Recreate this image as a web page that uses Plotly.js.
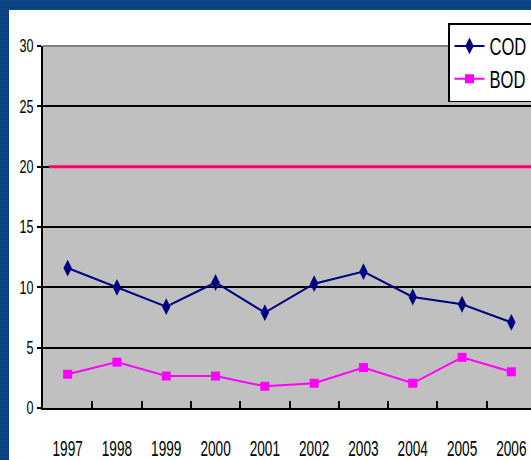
<!DOCTYPE html>
<html>
<head>
<meta charset="utf-8">
<script src="https://cdn.plot.ly/plotly-3.0.1.min.js"></script>
<style>
  html, body { margin: 0; padding: 0; }
  body {
    width: 531px; height: 460px; overflow: hidden; position: relative;
    background: repeating-linear-gradient(180deg, #0b4686 0px, #0b4686 2px, #0a3f7a 2px, #0a3f7a 4px);
  }
  #panel { position: absolute; left: 9px; top: 10px; width: 540px; height: 450px; background: #ffffff; }
  #chart { width: 540px; height: 450px; }
</style>
</head>
<body>
<div id="panel"><div id="chart"></div></div>
<script>
const years = ['1997','1998','1999','2000','2001','2002','2003','2004','2005','2006'];
const codValues = [11.6, 10.0, 8.4, 10.4, 7.9, 10.3, 11.3, 9.2, 8.6, 7.1];
const bodValues = [2.8, 3.8, 2.65, 2.65, 1.8, 2.05, 3.35, 2.05, 4.2, 3.0];
const standardValue = 20;
const yTicks = [0, 5, 10, 15, 20, 25, 30];

const FONT = "'Liberation Sans', Arial, sans-serif";

const traces = [
  {
    x: years, y: codValues, name: 'COD', type: 'scatter', mode: 'lines+markers',
    legendgroup: 'cod',
    line: {color: '#000080', width: 2},
    marker: {symbol: 'diamond-tall', size: 12, color: '#000080'}
  },
  {
    x: years, y: bodValues, name: 'BOD', type: 'scatter', mode: 'lines+markers',
    legendgroup: 'bod',
    line: {color: '#FF00FF', width: 2},
    marker: {symbol: 'square', size: 9, color: '#FF00FF'}
  }
];

const layout = {
  width: 540, height: 450,
  margin: {l: 34, r: 13, t: 36, b: 52, autoexpand: false},
  paper_bgcolor: '#ffffff',
  plot_bgcolor: '#C0C0C0',
  showlegend: true,
  legend: {
    xref: 'container', yref: 'container',
    x: 439/540, y: 1 - 13/450, xanchor: 'left', yanchor: 'top',
    bgcolor: '#ffffff', bordercolor: '#000000', borderwidth: 1.5,
    font: {family: FONT, size: 23, color: '#000000'},
    tracegroupgap: 0
  },
  xaxis: {
    type: 'category',
    range: [-0.5, years.length - 0.5],
    tickvals: years, ticktext: years,
    tickangle: 0,
    showgrid: false, zeroline: false,
    showline: true, linecolor: '#000000', linewidth: 2,
    ticks: 'inside', tickson: 'boundaries', ticklen: 7, tickwidth: 2, tickcolor: '#000000',
    ticklabelstandoff: 20,
    tickfont: {family: FONT, size: 22, color: '#000000'},
    fixedrange: true
  },
  yaxis: {
    range: [0, 30],
    tickvals: yTicks, ticktext: yTicks.map(String),
    showgrid: true, gridcolor: '#000000', gridwidth: 2,
    zeroline: false,
    showline: true, linecolor: '#000000', linewidth: 2,
    ticks: 'outside', ticklen: 4, tickwidth: 2, tickcolor: '#000000',
    ticklabelstandoff: 0,
    tickfont: {family: FONT, size: 18, color: '#000000'},
    fixedrange: true
  },
  shapes: [
    {type: 'line', xref: 'paper', yref: 'paper', x0: 0, x1: 1, y0: 1, y1: 1,
     line: {color: '#808080', width: 2}},
    {type: 'line', xref: 'paper', yref: 'y', x0: 0.012, x1: 1, y0: standardValue, y1: standardValue,
     line: {color: '#FF0066', width: 3}}
  ]
};

function squeeze(selector, factor) {
  document.querySelectorAll(selector).forEach(function (t) {
    const cx = parseFloat(t.getAttribute('x') || '0');
    const old = t.getAttribute('transform') || '';
    t.setAttribute('transform', old + ' translate(' + cx + ',0) scale(' + factor + ',1) translate(' + (-cx) + ',0)');
  });
}

Plotly.newPlot('chart', traces, layout, {displayModeBar: false, staticPlot: true}).then(function () {
  squeeze('#chart .xtick text', 0.62);
  squeeze('#chart .ytick text', 0.7);
  squeeze('#chart .legendtext', 0.72);
});
</script>
</body>
</html>
